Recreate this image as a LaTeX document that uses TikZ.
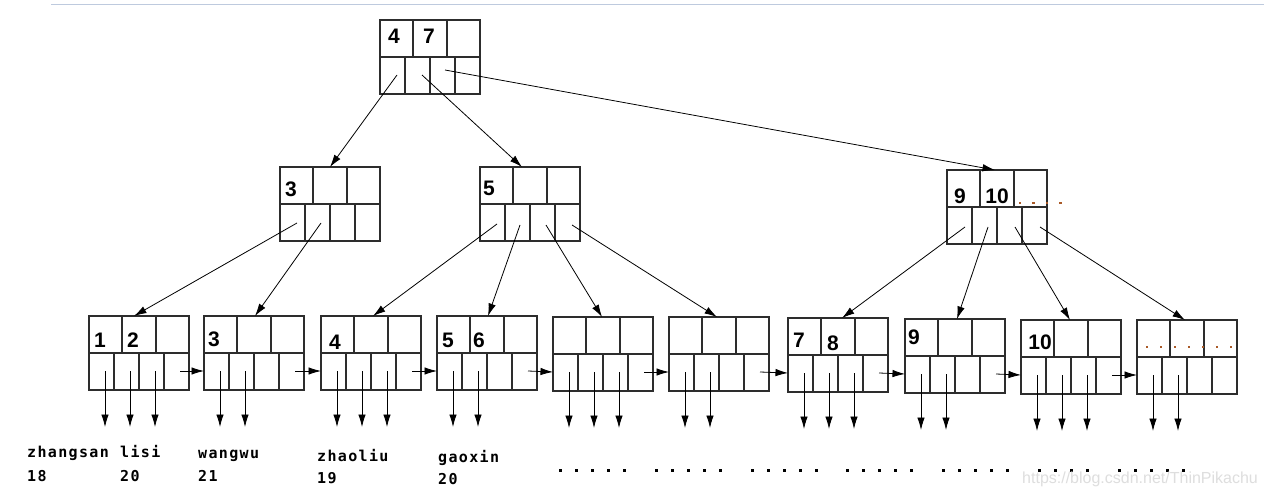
\documentclass[tikz,border=0pt]{standalone}
\usepackage{fontspec}
\setmainfont{Liberation Sans}
\newfontfamily\monob[LetterSpace=9]{DejaVu Sans Mono}
\usetikzlibrary{arrows.meta,calc}
\definecolor{boxline}{RGB}{45,45,45}
\definecolor{dotbrown}{RGB}{170,90,40}
\definecolor{topline}{RGB}{190,202,222}
\definecolor{wmark}{RGB}{222,222,222}
\tikzset{
  box/.style={draw=boxline, line width=1.2pt, minimum width=100pt, minimum height=74pt, anchor=north west, inner sep=0pt, outer sep=0pt},
  cell/.style={draw=boxline, line width=1.1pt},
  ptr/.style={draw=black, line width=0.8pt, -{Latex[length=12.5pt,width=7.5pt]}},
  num/.style={font=\bfseries\fontsize{21}{22}\selectfont, inner sep=0pt},
  lab/.style={font=\monob\bfseries\fontsize{15}{16}\selectfont, anchor=base west, inner sep=0pt},
  sqdot/.style={fill=black},
  bdot/.style={fill=dotbrown}
}
\newcommand{\BTbox}[3]{%
  \node[box] (#1) at (#2,#3) {};
  \draw[cell] (#2,#3+37) -- (#2+100,#3+37);
  \draw[cell] (#2+33,#3) -- (#2+33,#3+37);
  \draw[cell] (#2+67,#3) -- (#2+67,#3+37);
  \draw[cell] (#2+25,#3+37) -- (#2+25,#3+74);
  \draw[cell] (#2+50,#3+37) -- (#2+50,#3+74);
  \draw[cell] (#2+75,#3+37) -- (#2+75,#3+74);
}
\begin{document}
\begin{tikzpicture}[x=1pt,y=-1pt]
\useasboundingbox (0,0) rectangle (1264,495);
\fill[white] (0,0) rectangle (1264,495);
\draw[topline, line width=1.5pt] (51,4.5) -- (1264,4.5);

% internal nodes
\BTbox{R}{380}{20}
\BTbox{A}{280}{167}
\BTbox{B}{480}{167}
\BTbox{C}{947}{170}

% leaves
\BTbox{L1}{89}{316}
\BTbox{L2}{204}{316}
\BTbox{L3}{321}{316}
\BTbox{L4}{437}{316}
\BTbox{L5}{553}{317}
\BTbox{L6}{669}{317}
\BTbox{L7}{788}{318}
\BTbox{L8}{905}{319}
\BTbox{L9}{1021}{320}
\BTbox{L10}{1137}{320}

% keys
\node[num] (k4) at (394,36) {4};
\node[num] (k7) at (429,36) {7};
\node[num] (k3a) at (291,189) {3};
\node[num] (k5a) at (489,188) {5};
\node[num] (k9a) at (960,196) {9};
\node[num] (k10a) at (997,196) {10};
\node[num] (k1) at (100,340) {1};
\node[num] (k2) at (133,340) {2};
\node[num] (k3) at (214,339) {3};
\node[num] (k4b) at (335,342) {4};
\node[num] (k5) at (448,340) {5};
\node[num] (k6) at (479,340) {6};
\node[num] (k7b) at (799,340) {7};
\node[num] (k8) at (833,343) {8};
\node[num] (k9) at (914,337) {9};
\node[num] (k10) at (1040,342) {10};

% brown dots
\foreach \x in {1020,1033.5,1047,1060.5} \fill[bdot] (\x-1.4,203-1.4) rectangle ++(2.8,2.8);
\foreach \x in {1147,1161,1175,1189,1203,1217,1231} \fill[bdot] (\x-1.4,347-1.4) rectangle ++(2.8,2.8);

% pointers of root
\coordinate (R-p1) at (397,75);
\coordinate (R-p2) at (422,75);
\coordinate (R-p3) at (445,70);
\draw[ptr] (R-p1) -- ($(A.north)+(0,0)$);
\draw[ptr] (R-p2) -- ($(B.north)+(-8,0)$);
\draw[ptr] (R-p3) -- ($(C.north)+(-2,0)$);

% pointers of A
\coordinate (A-p1) at (297,223);
\coordinate (A-p2) at (321,223);
\draw[ptr] (A-p1) -- ($(L1.north)+(-5,0)$);
\draw[ptr] (A-p2) -- ($(L2.north)+(1,0)$);

% pointers of B
\coordinate (B-p1) at (497,224);
\coordinate (B-p2) at (520,225);
\coordinate (B-p3) at (546,225);
\coordinate (B-p4) at (572,225);
\draw[ptr] (B-p1) -- ($(L3.north)+(2,0)$);
\draw[ptr] (B-p2) -- ($(L4.north)+(1,0)$);
\draw[ptr] (B-p3) -- ($(L5.north)+(-1,0)$);
\draw[ptr] (B-p4) -- ($(L6.north)+(-2,0)$);

% pointers of C
\coordinate (C-p1) at (965,227);
\coordinate (C-p2) at (988,227);
\coordinate (C-p3) at (1015,227);
\coordinate (C-p4) at (1040,227);
\draw[ptr] (C-p1) -- ($(L7.north)+(4,0)$);
\draw[ptr] (C-p2) -- ($(L8.north)+(2,0)$);
\draw[ptr] (C-p3) -- ($(L9.north)+(-1,0)$);
\draw[ptr] (C-p4) -- ($(L10.north)+(-2,0)$);

% leaf chain
\foreach \a/\b in {L1/L2,L2/L3,L3/L4,L4/L5,L5/L6,L6/L7,L7/L8,L8/L9,L9/L10}{
  \coordinate (\a-nx) at ($(\a.north west)+(91,55)$);
  \draw[ptr] (\a-nx) -- ($(\b.north west)+(0,55)$);
}

% record pointers
\foreach \l/\n in {L1/3,L2/2,L3/3,L4/2,L5/3,L6/2,L7/3,L8/2,L9/3,L10/2}{
  \foreach \j in {1,...,\n}{
    \coordinate (\l-d\j s) at ($(\l.north west)+(16+25*\j-25,55)$);
    \coordinate (\l-d\j e) at ($(\l.north west)+(16+25*\j-25,111)$);
    \draw[ptr] (\l-d\j s) -- (\l-d\j e);
  }
}

% records
\node[lab] (n1) at (27,457) {zhangsan};
\node[lab] (n2) at (120,457) {lisi};
\node[lab] (n3) at (198,458) {wangwu};
\node[lab] (n4) at (317,461) {zhaoliu};
\node[lab] (n5) at (438,462) {gaoxin};
\node[lab] (a1) at (27,481) {18};
\node[lab] (a2) at (120,481) {20};
\node[lab] (a3) at (198,481) {21};
\node[lab] (a4) at (317,483) {19};
\node[lab] (a5) at (438,484) {20};

% dotted row
\foreach \g/\m in {560/5,656/5,752/5,847/5,943/5,1039/4,1119/5}{
  \foreach \i in {1,...,\m} \fill[sqdot] (\g+16*\i-16-1.5,470-1.5) rectangle ++(3,3);
}

% watermark
\node[font=\fontsize{16}{16}\selectfont, text=wmark, anchor=base west, inner sep=0pt] (wm) at (1022,483) {https://blog.csdn.net/ThinPikachu};
\end{tikzpicture}
\end{document}
